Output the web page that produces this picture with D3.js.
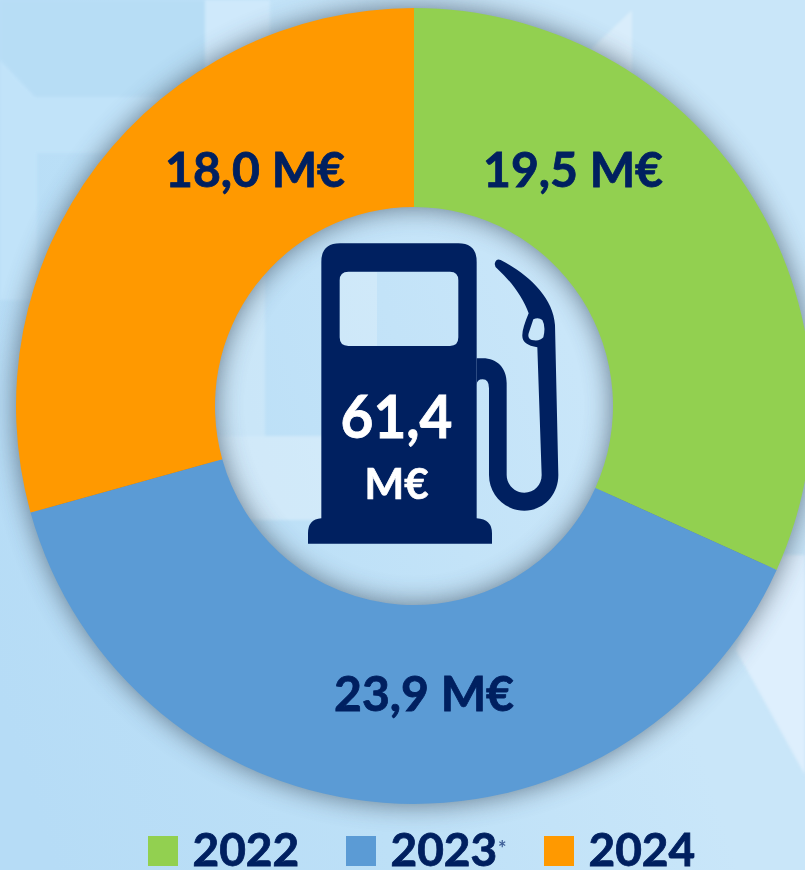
<!DOCTYPE html>
<html><head><meta charset="utf-8">
<script src="https://cdn.jsdelivr.net/npm/d3@7/dist/d3.min.js"></script>
<style>html,body{margin:0;padding:0;background:#c6e5f9;overflow:hidden}svg{display:block}text{font-family:Lato,Carlito,sans-serif;font-weight:700}</style>
</head><body><svg id="c" width="805" height="870"></svg>
<script>
const categories = ["2022","2023","2024"];
const values = [19.5,23.9,18.0];
const sliceLabels = ["19,5 M€","23,9 M€","18,0 M€"];
const colors = ["#92d050","#5b9bd5","#ff9900"];
const totalValue = "61,4";
const totalUnit = "M€";
const legendMarks = ["","*",""];
const navy = "#002060";

const svg = d3.select("#c");
const defs = svg.append("defs");
const bg = defs.append("linearGradient").attr("id","bg").attr("gradientUnits","userSpaceOnUse")
  .attr("x1",0).attr("y1",700).attr("x2",620).attr("y2",500);
bg.append("stop").attr("offset",0).attr("stop-color","#b6dcf6");
bg.append("stop").attr("offset",0.5).attr("stop-color","#bde0f7");
bg.append("stop").attr("offset",1).attr("stop-color","#c9e6f9");
defs.append("filter").attr("id","blur").attr("x","-10%").attr("y","-10%").attr("width","120%").attr("height","120%")
  .append("feGaussianBlur").attr("stdDeviation",13);
defs.append("filter").attr("id","soft").attr("filterUnits","userSpaceOnUse").attr("x",-20).attr("y",-20).attr("width",845).attr("height",910)
  .append("feGaussianBlur").attr("stdDeviation",1.5);

svg.append("rect").attr("width",805).attr("height",870).attr("fill","url(#bg)");
// faint background shapes
const patches = [
 ["M0 0H205V97H35L0 60Z","#b7ddf5",1],
 ["M0 60L35 97H215V153H37V300H0Z","#c1e3f9",1],
 ["M37 153H200V210H37Z","#b9def6",0.7],
 ["M205 0H270V100H205Z","#cfe9fb",1],
 ["M632 10L585 55L632 110Z","#fff",0.3],
 ["M215 207H265V436H215Z","#fff",0.2],
 ["M215 436H470V520H215Z","#fff",0.3],
 ["M736 650L805 775V555H770Z","#e0f0fd",0.9]
];
svg.append("g").attr("filter","url(#soft)").selectAll("path.patch").data(patches).join("path").attr("class","patch")
  .attr("d",d=>d[0]).attr("fill",d=>d[1]).attr("opacity",d=>d[2]);
svg.append("rect").attr("x",340).attr("y",272).attr("width",37).attr("height",74).attr("fill","#fff").attr("opacity",0.22);

const cx=414, cy=406, R=398, r=199;
const pie = d3.pie().sort(null).value(d=>d.v);
const arc = d3.arc().innerRadius(r).outerRadius(R);
const rows = categories.map((c,i)=>({c,v:values[i],l:sliceLabels[i],col:colors[i],m:legendMarks[i]}));
const arcs = pie(rows);
const color = d3.scaleOrdinal().domain(categories).range(colors);

const g = svg.append("g").attr("transform",`translate(${cx},${cy})`);
g.append("g").attr("filter","url(#blur)").attr("opacity",0.72)
 .selectAll("path").data(arcs).join("path").attr("d",arc).attr("fill","#3f5060").attr("stroke","#3f5060").attr("stroke-width",1);
g.selectAll("path.slice").data(arcs).join("path").attr("class","slice")
 .attr("d",arc).attr("fill",d=>color(d.data.c));

// label positions
const labelPos = d3.scaleOrdinal().domain(categories).range([[573,187],[424,711],[255,187]]);
svg.selectAll("text.lab").data(rows).join("text").attr("class","lab")
 .attr("x",d=>labelPos(d.c)[0]).attr("y",d=>labelPos(d.c)[1])
 .attr("text-anchor","middle").attr("font-size",48).attr("fill",navy).attr("stroke",navy).attr("stroke-width",0.8).text(d=>d.l)
 .attr("textLength",180).attr("lengthAdjust","spacingAndGlyphs");

// pump icon
const pump = svg.append("g").attr("transform","translate(290,230) scale(0.33333)").attr("fill",navy);
pump.append("path").attr("fill-rule","evenodd").attr("d",
 "M150 40H505Q560 40 560 95V865Q606 868 606 910V941H54V910Q54 868 94 865V95Q94 40 150 40Z"+
 "M175 125Q149 125 149 151V322Q149 348 175 348H480Q505 348 505 322V151Q505 125 480 125Z");
pump.append("path").attr("fill-rule","evenodd").attr("d",
 "M560 385H578C622 385 650 415 650 460V735C650 765 675 788 703 788C733 788 755 765 755 735L742 352Q695 345 697 315Q697 295 716 250C700 205 665 155 622 116Q612 108 615 98Q620 84 632 90C710 130 790 200 795 285L805 735C805 795 760 842 703 842C645 842 597 795 597 735V475Q597 448 578 448Q560 448 560 465Z"+
 "M730 268Q745 260 757 270Q768 290 760 322Q750 335 725 330Q712 325 716 310Z");

svg.append("text").attr("x",396.5).attr("y",438).attr("text-anchor","middle").attr("font-size",60).attr("fill","#fff").attr("stroke","#fff").attr("stroke-width",0.8).text(totalValue)
 .attr("textLength",112).attr("lengthAdjust","spacingAndGlyphs");
svg.append("text").attr("x",396.5).attr("y",499).attr("text-anchor","middle").attr("font-size",42).attr("fill","#fff").attr("stroke","#fff").attr("stroke-width",0.7).text(totalUnit)
 .attr("textLength",64).attr("lengthAdjust","spacingAndGlyphs");

// legend
const lx = d3.scalePoint().domain(categories).range([148,544]);
const leg = svg.selectAll("g.leg").data(rows).join("g").attr("class","leg").attr("transform",d=>`translate(${lx(d.c)},836)`);
leg.append("rect").attr("width",30).attr("height",30).attr("fill",d=>color(d.c));
leg.append("text").attr("x",44.5).attr("y",30).attr("font-size",46).attr("fill",navy).attr("stroke",navy).attr("stroke-width",0.8).text(d=>d.c);
leg.append("text").attr("x",152).attr("y",20).attr("font-size",20).attr("fill","#3f5f98").text(d=>d.m);
</script></body></html>
